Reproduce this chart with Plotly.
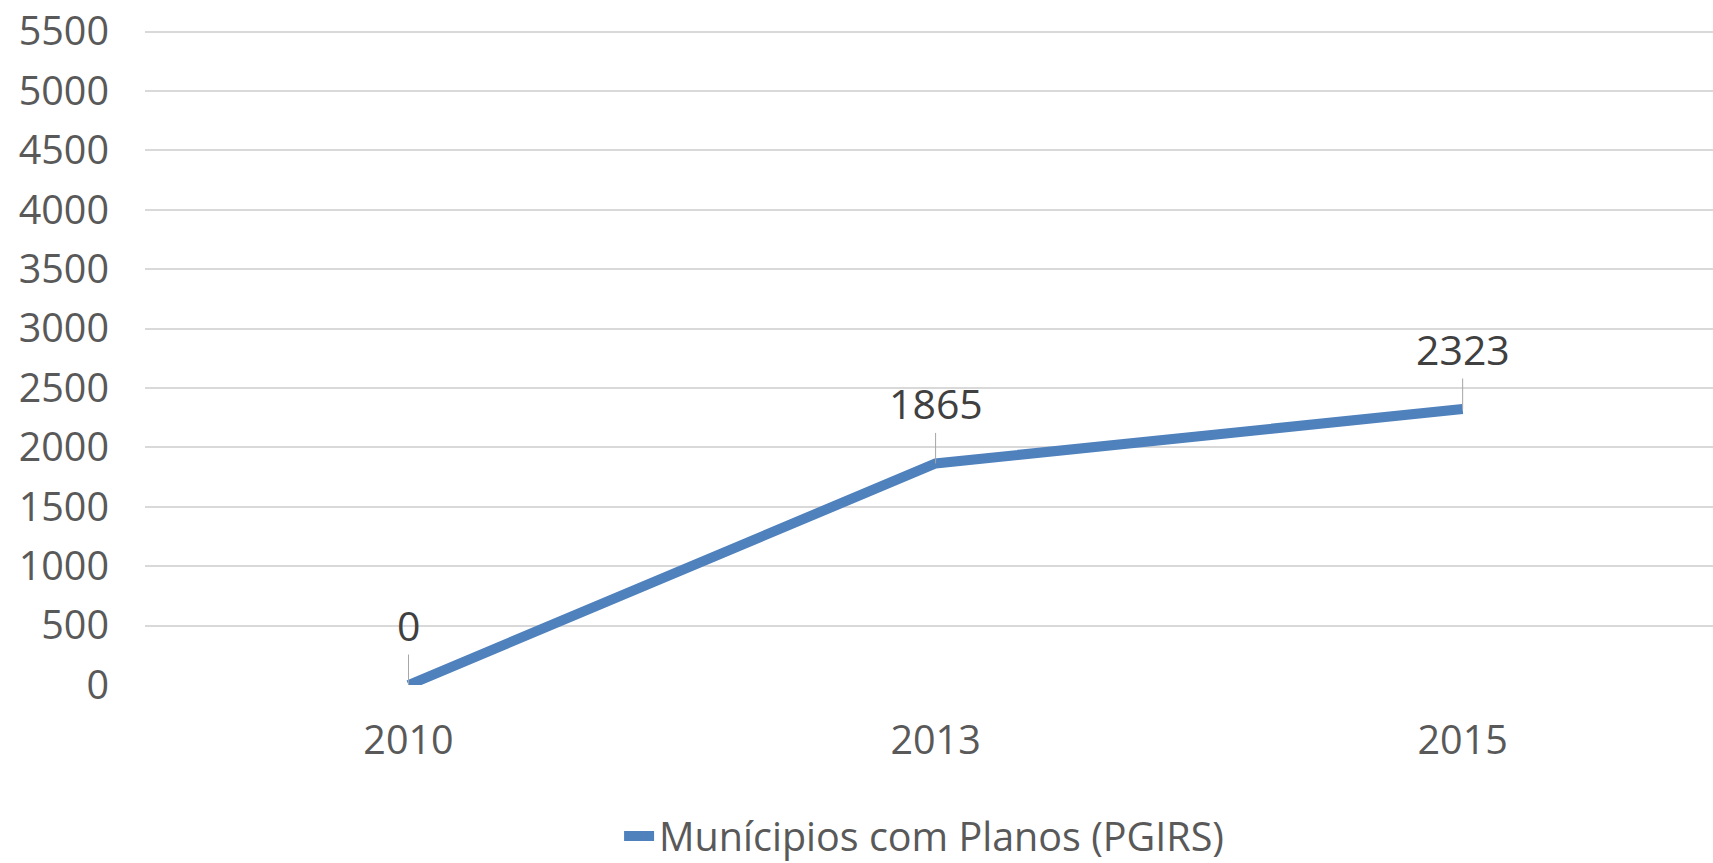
import plotly.graph_objects as go

years = ["2010", "2013", "2015"]
municipios = [0, 1865, 2323]
series_name = "Munícipios com Planos (PGIRS)"
y_ticks = list(range(0, 5501, 500))

FONT = "Open Sans"
TXT = "#595959"
BLUE = "#4F81BD"
FS = 39.5

fig = go.Figure()
fig.add_trace(go.Scatter(
    x=years, y=municipios, mode="lines", name=series_name,
    line=dict(color=BLUE, width=10),
    showlegend=True,
))

for i, yv in enumerate(municipios):
    fig.add_annotation(
        xref="x", yref="y", x=i, y=yv, text=str(yv), showarrow=True,
        arrowhead=0, arrowwidth=1, arrowcolor="#A6A6A6",
        ax=0, ay=-60, standoff=0,
        font=dict(family=FONT, size=41, color="#404040"),
    )

fig.update_layout(
    width=1713, height=863,
    margin=dict(l=145, r=0, t=28, b=178),
    paper_bgcolor="white", plot_bgcolor="white",
    font=dict(family=FONT, size=FS, color=TXT),
    showlegend=True,
    legend=dict(
        orientation="h", xref="container", yref="container",
        x=0.3614, xanchor="left", y=0.031, yanchor="middle",
        font=dict(family=FONT, size=FS, color=TXT),
    ),
    xaxis=dict(
        type="category", range=[-0.5, 2.475], automargin=False,
        showgrid=False, zeroline=False, showline=False,
        ticks="", ticklabelstandoff=28,
        tickfont=dict(family=FONT, size=FS, color=TXT),
    ),
    yaxis=dict(
        range=[0, 5530], tickvals=y_ticks, automargin=False,
        showgrid=True, gridcolor="#D9D9D9", gridwidth=1.5,
        zeroline=False, showline=False, ticks="",
        ticklabelstandoff=35,
        tickfont=dict(family=FONT, size=FS, color=TXT),
    ),
)

fig.write_html(
    "out.html",
    config={"displayModeBar": False},
    post_script="document.body.style.margin='0';document.body.style.overflow='hidden';",
)
